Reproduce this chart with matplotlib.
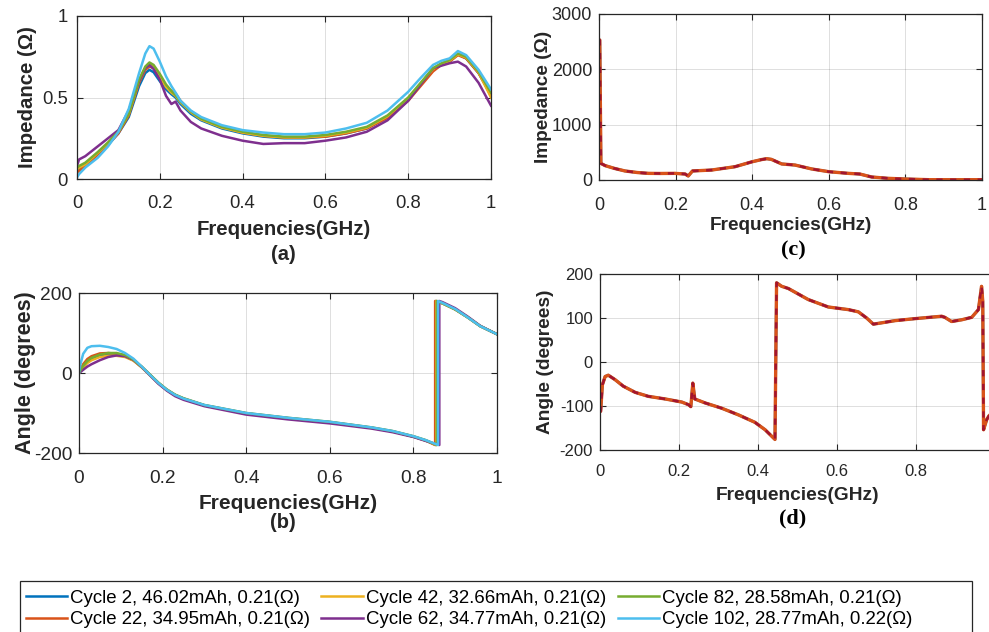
import matplotlib
matplotlib.use("Agg")
import matplotlib.pyplot as plt
from matplotlib.ticker import FuncFormatter
from matplotlib.lines import Line2D
from matplotlib.patches import Rectangle

plt.rcParams['font.family'] = ['Liberation Sans', 'DejaVu Sans']

# ---------------- data ----------------
labels = [
    "Cycle 2, 46.02mAh, 0.21(\u03a9)",
    "Cycle 22, 34.95mAh, 0.21(\u03a9)",
    "Cycle 42, 32.66mAh, 0.21(\u03a9)",
    "Cycle 62, 34.77mAh, 0.21(\u03a9)",
    "Cycle 82, 28.58mAh, 0.21(\u03a9)",
    "Cycle 102, 28.77mAh, 0.22(\u03a9)",
]
colors = ["#0072BD", "#D95319", "#EDB120", "#7E2F8E", "#77AC30", "#4DBEEE"]

# (a) impedance magnitude per cycle
freq_a = [0, 0.005, 0.02, 0.05, 0.075, 0.1, 0.125, 0.15, 0.165, 0.175, 0.185, 0.2,
          0.215, 0.228, 0.238, 0.25, 0.275, 0.3, 0.35, 0.4, 0.45, 0.5, 0.55, 0.6,
          0.65, 0.7, 0.75, 0.8, 0.83, 0.86, 0.88, 0.9, 0.92, 0.94, 0.97, 1.0]
imp_c2 = [0.05, 0.06, 0.08, 0.15, 0.21, 0.28, 0.38, 0.57, 0.65, 0.67, 0.655, 0.60,
          0.55, 0.52, 0.50, 0.46, 0.40, 0.36, 0.31, 0.28, 0.26, 0.25, 0.25, 0.26,
          0.28, 0.31, 0.38, 0.49, 0.58, 0.67, 0.70, 0.72, 0.765, 0.74, 0.65, 0.52]
imp_c22 = [0.04, 0.05, 0.08, 0.15, 0.21, 0.28, 0.39, 0.59, 0.67, 0.69, 0.68, 0.63,
           0.57, 0.54, 0.525, 0.48, 0.415, 0.37, 0.32, 0.285, 0.265, 0.255, 0.255, 0.26,
           0.28, 0.31, 0.375, 0.48, 0.57, 0.66, 0.70, 0.72, 0.76, 0.74, 0.65, 0.51]
imp_c42 = [0.06, 0.07, 0.09, 0.16, 0.22, 0.29, 0.40, 0.60, 0.68, 0.70, 0.69, 0.63,
           0.565, 0.53, 0.51, 0.47, 0.41, 0.365, 0.315, 0.285, 0.265, 0.255, 0.255, 0.265,
           0.285, 0.315, 0.385, 0.495, 0.585, 0.675, 0.705, 0.725, 0.765, 0.745, 0.655, 0.50]
imp_c62 = [0.08, 0.12, 0.14, 0.20, 0.25, 0.30, 0.42, 0.60, 0.68, 0.70, 0.675, 0.61,
           0.51, 0.46, 0.475, 0.42, 0.35, 0.31, 0.265, 0.235, 0.215, 0.22, 0.22, 0.235,
           0.255, 0.29, 0.36, 0.48, 0.58, 0.68, 0.695, 0.71, 0.72, 0.69, 0.59, 0.45]
imp_c82 = [0.07, 0.08, 0.10, 0.165, 0.225, 0.29, 0.40, 0.61, 0.69, 0.715, 0.70, 0.645,
           0.58, 0.54, 0.515, 0.475, 0.415, 0.37, 0.32, 0.29, 0.27, 0.26, 0.26, 0.27,
           0.29, 0.32, 0.39, 0.50, 0.59, 0.68, 0.71, 0.73, 0.77, 0.75, 0.66, 0.53]
imp_c102 = [0.01, 0.03, 0.07, 0.13, 0.20, 0.29, 0.43, 0.65, 0.77, 0.815, 0.80, 0.72,
            0.63, 0.57, 0.53, 0.48, 0.42, 0.38, 0.33, 0.30, 0.285, 0.275, 0.275, 0.285,
            0.31, 0.345, 0.42, 0.535, 0.62, 0.70, 0.725, 0.74, 0.785, 0.76, 0.67, 0.55]
imp_a = [imp_c2, imp_c22, imp_c42, imp_c62, imp_c82, imp_c102]

# (b) impedance angle per cycle: before the wrap, wrap frequency, after the wrap
freq_b_pre = [0, 0.003, 0.01, 0.02, 0.03, 0.05, 0.07, 0.09, 0.11, 0.13, 0.15, 0.17,
              0.19, 0.21, 0.23, 0.25, 0.3, 0.4, 0.5, 0.6, 0.7, 0.75, 0.8, 0.83]
ang_c2_pre = [0, 5, 15, 27, 35, 43, 46, 46, 42, 32, 15, -5,
              -25, -42, -55, -64, -81, -101, -113, -123, -137, -146, -159, -169]
ang_c22_pre = [0, 8, 22, 35, 42, 49, 50, 48, 42, 32, 15, -5,
               -25, -42, -55, -64, -81, -101, -113, -123, -137, -146, -159, -169]
ang_c42_pre = [0, 5, 14, 25, 32, 40, 43, 43, 40, 31, 14, -6,
               -26, -43, -56, -65, -81, -101, -113, -123, -137, -146, -159, -169]
ang_c62_pre = [0, 2, 8, 16, 22, 32, 40, 44, 42, 33, 15, -6,
               -27, -44, -58, -67, -83, -104, -116, -126, -139, -148, -160, -170]
ang_c82_pre = [0, 6, 18, 30, 38, 46, 50, 50, 45, 34, 16, -4,
               -24, -41, -54, -63, -80, -100, -112, -122, -136, -145, -158, -168]
ang_c102_pre = [0, 20, 48, 63, 67, 68, 65, 60, 50, 36, 16, -5,
                -25, -42, -55, -64, -80, -100, -112, -122, -136, -145, -158, -168]
wrap_b = [0.854, 0.852, 0.855, 0.862, 0.856, 0.859]
freq_b_post = [0.87, 0.9, 0.93, 0.96, 1.0]
ang_c2_post = [174, 159, 139, 117, 97]
ang_c22_post = [174, 159, 139, 117, 97]
ang_c42_post = [174, 159, 139, 117, 97]
ang_c62_post = [177, 162, 141, 118, 97]
ang_c82_post = [174, 159, 139, 117, 97]
ang_c102_post = [175, 160, 139, 117, 97]
ang_pre = [ang_c2_pre, ang_c22_pre, ang_c42_pre, ang_c62_pre, ang_c82_pre, ang_c102_pre]
ang_post = [ang_c2_post, ang_c22_post, ang_c42_post, ang_c62_post, ang_c82_post, ang_c102_post]

# (c) impedance magnitude of the single response
freq_c = [0, 0.002, 0.005, 0.016, 0.04, 0.068, 0.1, 0.129, 0.16, 0.198, 0.225, 0.233,
          0.244, 0.294, 0.355, 0.40, 0.425, 0.438, 0.45, 0.477, 0.512, 0.555, 0.6,
          0.651, 0.681, 0.712, 0.755, 0.8, 0.86, 0.93, 1.0]
imp_c = [2530, 2530, 300, 260, 210, 163, 135, 120, 118, 120, 108, 72,
         163, 180, 240, 330, 370, 385, 373, 290, 270, 200, 150,
         120, 108, 54, 30, 18, 6, 5, 6]

# (d) impedance angle of the single response
freq_d = [0, 0.0017, 0.006, 0.013, 0.021, 0.038, 0.059, 0.089, 0.122, 0.165, 0.207,
          0.224, 0.23, 0.235, 0.24, 0.266, 0.308, 0.35, 0.392, 0.418, 0.443, 0.447,
          0.46, 0.477, 0.527, 0.578, 0.629, 0.654, 0.675, 0.692, 0.713, 0.747, 0.797,
          0.865, 0.873, 0.89, 0.916, 0.941, 0.958, 0.966, 0.969, 0.971, 0.979, 0.985, 1.0]
ang_d = [-110, -112, -52, -33, -30, -40, -55, -69, -78, -84, -91,
         -97, -101.5, -48, -84, -93, -105, -120, -137, -154, -176, 180,
         172, 167, 142, 125, 119, 114, 100, 86, 89, 94, 98.5,
         104, 101.5, 92, 96, 101.5, 119, 172, 138, -154, -131, -122, -110]

# ---------------- figure ----------------
W, H = 989, 632
fig = plt.figure(figsize=(W / 100, H / 100), dpi=100)

INK = "#262626"


def px_axes(left, top, right, bottom):
    return fig.add_axes([left / W, 1 - bottom / H, (right - left) / W, (bottom - top) / H])


def style(ax, tick_size, xpad, ypad=5):
    for s in ax.spines.values():
        s.set_color(INK)
        s.set_linewidth(0.9)
    ax.tick_params(direction="in", top=True, right=True, length=4, width=0.8,
                   colors=INK, labelsize=tick_size)
    ax.tick_params(axis="x", pad=xpad)
    ax.tick_params(axis="y", pad=ypad)
    ax.grid(True, color=INK, alpha=0.15, linewidth=0.7)
    ax.set_axisbelow(True)
    ax.xaxis.set_major_formatter(FuncFormatter(lambda v, p: f"{v:g}"))
    ax.yaxis.set_major_formatter(FuncFormatter(lambda v, p: f"{v:g}"))


xticks = [0, 0.2, 0.4, 0.6, 0.8, 1.0]

# (a)
ax_a = px_axes(77, 16, 491, 179)
style(ax_a, 13.3, xpad=11.5, ypad=6.5)
for y, c in zip(imp_a, colors):
    ax_a.plot(freq_a, y, color=c, lw=1.8)
ax_a.set_xlim(0, 1)
ax_a.set_ylim(0, 1)
ax_a.set_xticks(xticks)
ax_a.set_yticks([0, 0.5, 1])
ax_a.set_xlabel("Frequencies(GHz)", fontsize=14.7, fontweight="bold", color=INK, labelpad=5.5)
ax_a.set_ylabel("Impedance (\u03a9)", fontsize=14.7, fontweight="bold", color=INK, labelpad=4)

# (b)
ax_b = px_axes(79, 293, 497, 453)
style(ax_b, 13.8, xpad=12)
for pre, post, jf, c in zip(ang_pre, ang_post, wrap_b, colors):
    xs = freq_b_pre + [jf, jf] + freq_b_post
    ys = pre + [-180, 180] + post
    ax_b.plot(xs, ys, color=c, lw=1.8)
ax_b.set_xlim(0, 1)
ax_b.set_ylim(-200, 200)
ax_b.set_xticks(xticks)
ax_b.set_yticks([-200, 0, 200])
ax_b.set_xlabel("Frequencies(GHz)", fontsize=15, fontweight="bold", color=INK, labelpad=5)
ax_b.set_ylabel("Angle (degrees)", fontsize=15.5, fontweight="bold", color=INK, labelpad=-2)

# (c)
ax_c = px_axes(599, 14, 982, 180)
style(ax_c, 13, xpad=12)
ax_c.plot(freq_c, imp_c, color=colors[0], lw=2)
ax_c.plot(freq_c, imp_c, color=colors[1], lw=2.4)
ax_c.plot(freq_c, imp_c, color="#A2142F", lw=1.8, ls=(0, (2.5, 3)))
ax_c.set_xlim(0, 1)
ax_c.set_ylim(0, 3000)
ax_c.set_xticks(xticks)
ax_c.set_yticks([0, 1000, 2000, 3000])
ax_c.set_xlabel("Frequencies(GHz)", fontsize=13.7, fontweight="bold", color=INK, labelpad=2.5)
ax_c.set_ylabel("Impedance (\u03a9)", fontsize=13.7, fontweight="bold", color=INK, labelpad=0)

# (d) -- right part of this frame runs past the canvas edge
ax_d = px_axes(600, 274, 995, 450)
style(ax_d, 12, xpad=10)
ax_d.plot(freq_d, ang_d, color=colors[0], lw=2)
ax_d.plot(freq_d, ang_d, color=colors[1], lw=2.4)
ax_d.plot(freq_d, ang_d, color="#A2142F", lw=1.8, ls=(0, (2.5, 3)))
ax_d.set_xlim(0, 1)
ax_d.set_ylim(-200, 200)
ax_d.set_xticks([0, 0.2, 0.4, 0.6, 0.8])
ax_d.set_yticks([-200, -100, 0, 100, 200])
ax_d.set_xlabel("Frequencies(GHz)", fontsize=13.8, fontweight="bold", color=INK, labelpad=5.6)
ax_d.set_ylabel("Angle (degrees)", fontsize=13.8, fontweight="bold", color=INK, labelpad=4)

# panel tags
fig.text(283 / W, 1 - 255 / H, "(a)", ha="center", va="center", fontsize=14.5,
         fontweight="bold", color=INK)
fig.text(283 / W, 1 - 523 / H, "(b)", ha="center", va="center", fontsize=14.5,
         fontweight="bold", color=INK)
fig.text(793 / W, 1 - 250 / H, "(c)", ha="center", va="center", fontsize=16,
         fontweight="bold", family="Liberation Serif", color="black")
fig.text(793 / W, 1 - 518 / H, "(d)", ha="center", va="center", fontsize=16,
         fontweight="bold", family="Liberation Serif", color="black")

# shared legend with a wide box that runs off the bottom edge
fig.patches.append(Rectangle((20 / W, 1 - 640 / H), 952 / W, 59 / H,
                             transform=fig.transFigure, facecolor="white",
                             edgecolor=INK, linewidth=0.9, zorder=1))
handles = [Line2D([], [], color=c, lw=1.8) for c in colors]
leg = fig.legend(handles, labels, ncol=3, loc="upper left",
                 bbox_to_anchor=(20 / W, 1 - 584 / H), fontsize=13.4,
                 frameon=False, handlelength=2.25, handletextpad=0.15,
                 columnspacing=0.6, labelspacing=0.25, borderpad=0.3,
                 borderaxespad=0)
leg.set_zorder(2)

fig.savefig("out.png", dpi=100)
